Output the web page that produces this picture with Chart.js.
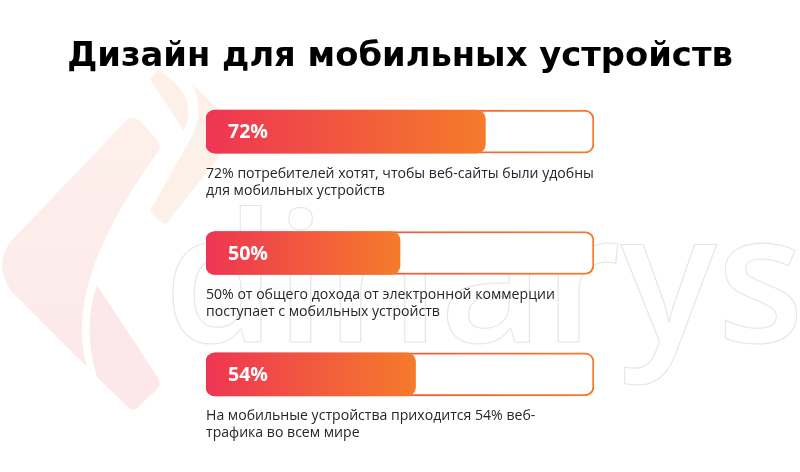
<!DOCTYPE html>
<html>
<head>
<meta charset="utf-8">
<script src="https://cdn.jsdelivr.net/npm/chart.js@4.4.0/dist/chart.umd.min.js"></script>
<style>
  html, body { margin: 0; padding: 0; background: #ffffff; }
  #wrap { width: 800px; height: 472px; position: relative; }
</style>
</head>
<body>
<div id="wrap"><canvas id="chart"></canvas></div>
<script>
// ---- data ----
const titleText = 'Дизайн для мобильных устройств';
const categories = ['Удобство сайтов', 'Доход e-commerce', 'Веб-трафик'];
const percentValues = [72, 50, 54];
const trackValues = [100, 100, 100];
const descriptionLines = [
  ['72% потребителей хотят, чтобы веб-сайты были удобны', 'для мобильных устройств'],
  ['50% от общего дохода от электронной коммерции', 'поступает с мобильных устройств'],
  ['На мобильные устройства приходится 54% веб-', 'трафика во всем мире']
];
const watermarkText = 'dinarys';

// ---- font fitting helpers ----
const mctx = document.createElement('canvas').getContext('2d');
function fitSize(text, weight, family, targetWidth) {
  mctx.font = weight + ' 100px ' + family;
  return 100 * targetWidth / mctx.measureText(text).width;
}
const TITLE_FAMILY = '"DejaVu Sans"';
const TEXT_FAMILY = '"Open Sans"';
const titleSize = fitSize(titleText, 'bold', TITLE_FAMILY, 666);
const descSize = fitSize(descriptionLines[0][0], 'normal', TEXT_FAMILY, 388);
const labelSize = fitSize('72%', 'bold', TEXT_FAMILY, 40);
const titleLineHeight = 24 / titleSize;

function fillGradient(context) {
  const chart = context.chart;
  if (!chart.chartArea || !chart.scales.x) return '#f0473f';
  const xs = chart.scales.x;
  const x0 = xs.getPixelForValue(0);
  const x1 = xs.getPixelForValue(context.raw);
  const g = chart.ctx.createLinearGradient(x0, 0, x1, 0);
  g.addColorStop(0, '#ee3553');
  g.addColorStop(1, '#f57b2a');
  return g;
}
function trackGradient(context) {
  const chart = context.chart;
  const a = chart.chartArea;
  if (!a) return '#f26a30';
  const g = chart.ctx.createLinearGradient(a.left, 0, a.right, 0);
  g.addColorStop(0, '#ee3a4e');
  g.addColorStop(1, '#f57b2a');
  return g;
}

const watermarkPlugin = {
  id: 'watermark',
  beforeDraw(chart) {
    const ctx = chart.ctx;
    ctx.save();
    ctx.fillStyle = '#ffffff';
    ctx.fillRect(0, 0, chart.width, chart.height);

    // faint logo pieces
    ctx.fillStyle = '#fdf0e8';
    ctx.beginPath();
    ctx.moveTo(150, 79); ctx.lineTo(158, 70);
    ctx.quadraticCurveTo(200, 95, 184, 131);
    ctx.closePath(); ctx.fill();

    ctx.beginPath();
    ctx.moveTo(192, 84); ctx.lineTo(240, 130); ctx.lineTo(166, 224);
    ctx.quadraticCurveTo(158, 222, 150, 211);
    ctx.lineTo(190, 140);
    ctx.quadraticCurveTo(206, 112, 192, 84);
    ctx.closePath(); ctx.fill();

    const g = ctx.createLinearGradient(0, 118, 0, 410);
    g.addColorStop(0, '#fdf0ea');
    g.addColorStop(1, '#fce8ec');
    ctx.fillStyle = g;
    ctx.beginPath();
    ctx.moveTo(125, 122);
    ctx.quadraticCurveTo(133, 114, 141, 122);
    ctx.lineTo(157, 140);
    ctx.quadraticCurveTo(162, 146, 158, 152);
    ctx.bezierCurveTo(105, 225, 68, 300, 87, 367);
    ctx.lineTo(12, 292);
    ctx.quadraticCurveTo(-8, 264, 12, 240);
    ctx.closePath(); ctx.fill();

    ctx.fillStyle = '#fce8eb';
    ctx.beginPath();
    ctx.moveTo(97, 285);
    ctx.lineTo(158, 378);
    ctx.quadraticCurveTo(162, 385, 156, 390);
    ctx.lineTo(138, 407);
    ctx.quadraticCurveTo(133, 412, 128, 407);
    ctx.lineTo(97, 377);
    ctx.quadraticCurveTo(82, 330, 97, 285);
    ctx.closePath(); ctx.fill();

    // outlined watermark word
    const fam = '"Open Sans"';
    ctx.font = '600 100px ' + fam;
    const xh = ctx.measureText('x').actualBoundingBoxAscent;
    const size = 100 * 97 / xh;
    ctx.font = '600 ' + size + 'px ' + fam;
    const w = ctx.measureText(watermarkText).width;
    const sx = 640 / w;
    ctx.translate(164, 342);
    ctx.scale(sx, 1);
    ctx.lineWidth = 1.1 / sx;
    ctx.strokeStyle = '#e6e6e6';
    ctx.textBaseline = 'alphabetic';
    ctx.textAlign = 'left';
    ctx.strokeText(watermarkText, 0, 0);
    ctx.restore();
  }
};

const textPlugin = {
  id: 'barTexts',
  afterDatasetsDraw(chart) {
    const ctx = chart.ctx;
    const meta = chart.getDatasetMeta(0);
    const left = chart.chartArea.left;
    ctx.save();
    meta.data.forEach((bar, i) => {
      ctx.fillStyle = '#ffffff';
      ctx.font = 'bold ' + labelSize + 'px ' + TEXT_FAMILY;
      ctx.textBaseline = 'middle';
      ctx.textAlign = 'left';
      ctx.fillText(percentValues[i] + '%', left + 22, bar.y + 1);

      ctx.fillStyle = '#262626';
      ctx.font = 'normal ' + descSize + 'px ' + TEXT_FAMILY;
      ctx.textBaseline = 'alphabetic';
      descriptionLines[i].forEach((line, j) => {
        ctx.fillText(line, left, bar.y + 46 + j * 17);
      });
    });
    ctx.restore();
  }
};

const sideWidth = 206;
const hiddenSide = (position) => ({
  position: position,
  display: true,
  grid: { display: false, drawTicks: false },
  border: { display: false },
  ticks: { display: false },
  afterFit(scale) { scale.width = sideWidth; }
});

new Chart(document.getElementById('chart'), {
  type: 'bar',
  data: {
    labels: categories,
    datasets: [
      {
        label: 'Доля',
        data: percentValues,
        backgroundColor: fillGradient,
        borderWidth: 0,
        borderRadius: 9,
        borderSkipped: false,
        barThickness: 43,
        grouped: false
      },
      {
        label: 'Шкала',
        data: trackValues,
        backgroundColor: '#ffffff',
        borderColor: trackGradient,
        borderWidth: 2,
        borderRadius: 9,
        borderSkipped: false,
        barThickness: 43,
        grouped: false
      }
    ]
  },
  options: {
    indexAxis: 'y',
    responsive: true,
    maintainAspectRatio: false,
    animation: false,
    layout: { padding: { left: 0, right: 0, top: 0, bottom: 37 } },
    scales: {
      x: { min: 0, max: 100, display: false },
      y: Object.assign({ type: 'category', offset: true }, hiddenSide('left')),
      yRight: Object.assign({ type: 'category', offset: true }, hiddenSide('right'))
    },
    plugins: {
      legend: { display: false },
      tooltip: { enabled: false },
      title: {
        display: true,
        text: titleText,
        color: '#000000',
        font: { family: TITLE_FAMILY, size: titleSize, weight: 'bold', lineHeight: titleLineHeight },
        padding: { top: 45, bottom: 2 }
      }
    }
  },
  plugins: [watermarkPlugin, textPlugin]
});
</script>
</body>
</html>
